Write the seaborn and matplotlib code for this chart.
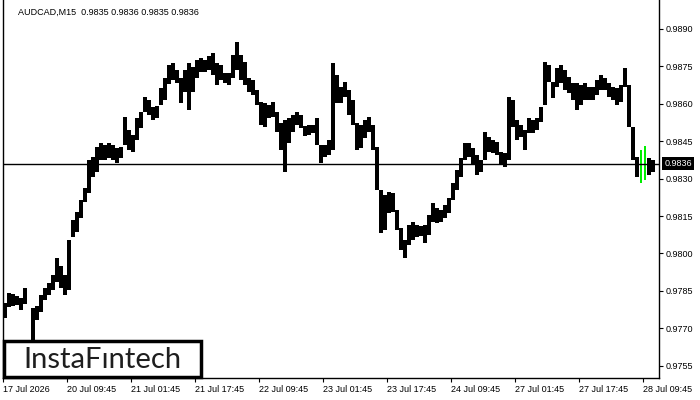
import numpy as np
import matplotlib
matplotlib.use("Agg")
import matplotlib.pyplot as plt
import matplotlib.transforms as mtransforms
from matplotlib.patches import Rectangle
import seaborn as sns

sns.set_theme(style="white")
plt.rcParams['font.family'] = ['Liberation Sans', 'DejaVu Sans']

# Chart data: hourly high / low (nan = no bars)
symbol = "AUDCAD,M15"
last_ohlc = [0.9835, 0.9836, 0.9835, 0.9836]
current_price = 0.9836

highs = [
    0.97801, 0.97841, 0.97837, 0.97829, 0.97821, 0.97861, np.nan, 0.97781, 0.97789, 0.97833,
    0.97861, 0.97881, 0.97913, 0.97981, 0.97949, 0.97913, 0.98054, 0.98134, 0.98166, 0.98214,
    0.98262, 0.98374, 0.98386, 0.98427, 0.98443, 0.98435, 0.98443, 0.98435, 0.98423, 0.98427,
    0.98547, 0.98495, 0.98475, 0.98543, 0.98567, 0.98627, 0.98615, 0.98587, 0.98591, 0.98663,
    0.98703, 0.98755, 0.98763, 0.98735, 0.98703, 0.98735, 0.98763, 0.98747, 0.98775, 0.98783,
    0.98775, 0.98791, 0.98803, 0.98763, 0.98755, 0.98723, 0.98723, 0.98795, 0.98848, 0.98795,
    0.98767, 0.98703, 0.98695, 0.98655, 0.98607, 0.98603, 0.98595, 0.98607, 0.98567, 0.98523,
    0.98535, 0.98543, 0.98555, 0.98567, 0.98555, 0.98511, 0.98515, 0.98515, 0.98543, 0.98435,
    0.98435, 0.98455, 0.98763, 0.98715, 0.98667, 0.98687, 0.98655, 0.98615, 0.98523, 0.98515,
    0.98535, 0.98547, 0.98515, 0.98427, 0.98254, 0.98234, 0.98246, 0.98242, 0.98174, 0.98102,
    0.98054, 0.98114, 0.98126, 0.98114, 0.98110, 0.98114, 0.98154, 0.98202, 0.98182, 0.98174,
    0.98194, 0.98222, 0.98282, 0.98334, 0.98382, 0.98443, 0.98443, 0.98423, 0.98395, 0.98374,
    0.98487, 0.98467, 0.98455, 0.98447, 0.98407, 0.98403, 0.98627, 0.98615, 0.98535, 0.98515,
    0.98495, 0.98543, 0.98535, 0.98543, 0.98587, 0.98767, 0.98755, 0.98687, 0.98743, 0.98755,
    0.98735, 0.98707, 0.98683, 0.98683, 0.98675, 0.98683, 0.98667, 0.98667, 0.98695, 0.98715,
    0.98703, 0.98683, 0.98667, 0.98663, 0.98675, 0.98743, 0.98675, 0.98507, 0.98386, 0.98415,
    0.98431, 0.98382, 0.98374,
]
lows = [
    0.97741, 0.97785, 0.97789, 0.97793, 0.97773, 0.97797, np.nan, 0.97653, 0.97733, 0.97765,
    0.97813, 0.97833, 0.97853, 0.97885, 0.97861, 0.97833, 0.97853, 0.98066, 0.98086, 0.98142,
    0.98206, 0.98242, 0.98306, 0.98326, 0.98374, 0.98374, 0.98382, 0.98374, 0.98362, 0.98382,
    0.98435, 0.98415, 0.98407, 0.98455, 0.98503, 0.98567, 0.98555, 0.98535, 0.98543, 0.98595,
    0.98615, 0.98679, 0.98695, 0.98683, 0.98603, 0.98647, 0.98575, 0.98647, 0.98703, 0.98727,
    0.98727, 0.98735, 0.98715, 0.98675, 0.98695, 0.98683, 0.98675, 0.98703, 0.98735, 0.98695,
    0.98675, 0.98647, 0.98635, 0.98595, 0.98515, 0.98507, 0.98543, 0.98547, 0.98487, 0.98415,
    0.98326, 0.98443, 0.98487, 0.98515, 0.98503, 0.98471, 0.98475, 0.98483, 0.98435, 0.98362,
    0.98386, 0.98395, 0.98415, 0.98603, 0.98603, 0.98627, 0.98555, 0.98515, 0.98415, 0.98423,
    0.98463, 0.98487, 0.98415, 0.98254, 0.98082, 0.98094, 0.98162, 0.98166, 0.98094, 0.98014,
    0.97981, 0.98034, 0.98054, 0.98066, 0.98070, 0.98042, 0.98074, 0.98126, 0.98122, 0.98126,
    0.98142, 0.98162, 0.98214, 0.98254, 0.98306, 0.98374, 0.98386, 0.98354, 0.98314, 0.98326,
    0.98374, 0.98407, 0.98403, 0.98395, 0.98354, 0.98346, 0.98374, 0.98507, 0.98455, 0.98467,
    0.98415, 0.98483, 0.98483, 0.98495, 0.98527, 0.98595, 0.98687, 0.98623, 0.98667, 0.98683,
    0.98655, 0.98643, 0.98615, 0.98575, 0.98595, 0.98615, 0.98615, 0.98615, 0.98635, 0.98655,
    0.98655, 0.98627, 0.98615, 0.98595, 0.98607, 0.98667, 0.98507, 0.98374, 0.98306, 0.98282,
    0.98294, 0.98314, 0.98326,
]
pattern_bars = [159, 160]  # highlighted (green) bars

time_labels = ["17 Jul 2026", "20 Jul 09:45", "21 Jul 01:45", "21 Jul 17:45",
               "22 Jul 09:45", "23 Jul 01:45", "23 Jul 17:45", "24 Jul 09:45",
               "27 Jul 01:45", "27 Jul 17:45", "28 Jul 09:45"]
bars_per_label = 16
price_ticks = [0.9755, 0.9770, 0.9785, 0.9800, 0.9815, 0.9830,
               0.9845, 0.9860, 0.9875, 0.9890]

highs = np.array(highs)
lows = np.array(lows)
x = np.arange(len(highs))
is_pattern = np.isin(x, pattern_bars)

fig = plt.figure(figsize=(7, 4), dpi=100)
ax = fig.add_axes([3 / 700, 22 / 400, 656 / 700, 378 / 400])

ax.bar(x[~is_pattern], (highs - lows)[~is_pattern], bottom=lows[~is_pattern],
       width=1.0, color="black", linewidth=0)
ax.bar(x[is_pattern], (highs - lows)[is_pattern], bottom=lows[is_pattern],
       width=0.55, color="#00ee00", linewidth=0)
ax.axhline(current_price, color="black", linewidth=1)

ax.set_xlim(-0.5, len(highs) + 0.5)
ax.set_ylim(0.97501, 0.99016)

# axes look (MetaTrader style)
for side in ["left", "right", "bottom"]:
    ax.spines[side].set_color("black")
    ax.spines[side].set_linewidth(1)
ax.spines["top"].set_visible(False)

ax.yaxis.tick_right()
ax.set_yticks(price_ticks)
ax.set_yticklabels([f"{p:.4f}" for p in price_ticks])
ax.tick_params(axis="y", which="major", right=True, left=False, direction="out",
               length=3, width=0.8, color="black", labelsize=6.5, pad=2,
               labelcolor="black")

xticks = np.arange(len(time_labels)) * bars_per_label - 0.5
ax.set_xticks(xticks)
ax.set_xticklabels(time_labels, ha="left")
ax.tick_params(axis="x", which="major", bottom=True, direction="out",
               length=3, width=0.8, color="black", labelsize=6.5, pad=2,
               labelcolor="black")
ax.grid(False)

# current price marker on the price scale
trans = mtransforms.blended_transform_factory(ax.transAxes, ax.transData)
ax.text(1.0085, current_price, f"{current_price:.4f}", transform=trans,
        color="white", fontsize=6.5, ha="left", va="center", clip_on=False,
        bbox=dict(facecolor="black", edgecolor="none", pad=1.6))

# header line
fig.text(18 / 700, 1 - 12 / 400,
         f"{symbol}  " + " ".join(f"{v:.4f}" for v in last_ohlc),
         fontsize=6.5, color="black", ha="left", va="center")

# logo box
fig.patches.append(Rectangle((4 / 700, 23 / 400), 197 / 700, 36 / 400,
                             transform=fig.transFigure, facecolor="white",
                             edgecolor="black", linewidth=2.5, zorder=10))
fig.text(102 / 700, 1 - 360 / 400, "InstaFıntech", fontsize=21,
         family=["Lato", "DejaVu Sans"], color="#1e1e1e",
         ha="center", va="center", zorder=11)

fig.savefig("out.png", dpi=100)
